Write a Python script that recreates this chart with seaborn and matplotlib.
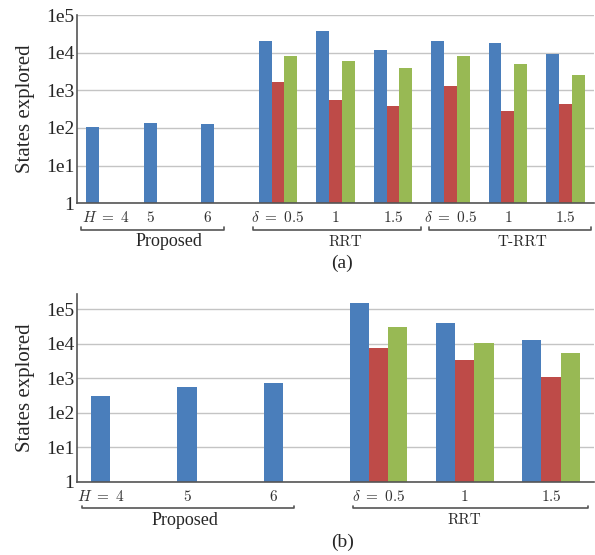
import numpy as np
import pandas as pd
import matplotlib.pyplot as plt
import matplotlib.transforms as mtransforms
import seaborn as sns

nan = np.nan

series = ["s1", "s2", "s3"]
palette = ["#4a7ebb", "#be4b48", "#98b954"]

# panel (a)
cats_a = ["H4", "H5", "H6", "RRT0.5", "RRT1", "RRT1.5", "TRRT0.5", "TRRT1", "TRRT1.5"]
labels_a = [r"$H\ =\ 4$", r"$5$", r"$6$", r"$\delta\ =\ 0.5$", r"$1$", r"$1.5$",
            r"$\delta\ =\ 0.5$", r"$1$", r"$1.5$"]
s1_a = [105, 133, 127, 20000, 38000, 11700, 21000, 18300, 9100]
s2_a = [nan, nan, nan, 1650, 550, 390, 1300, 290, 440]
s3_a = [nan, nan, nan, 8400, 6000, 3800, 8400, 5000, 2580]
groups_a = [("Proposed", -0.43, 2.06, 1.1), ("RRT", 2.57, 5.48, 4.17), ("T-RRT", 5.62, 8.44, 7.25)]

# panel (b)
cats_b = ["H4", "H5", "H6", "RRT0.5", "RRT1", "RRT1.5"]
labels_b = [r"$H\ =\ 4$", r"$5$", r"$6$", r"$\delta\ =\ 0.5$", r"$1$", r"$1.5$"]
s1_b = [316, 565, 725, 151000, 40000, 13100]
s2_b = [nan, nan, nan, 7600, 3450, 1080]
s3_b = [nan, nan, nan, 30500, 10200, 5350]
groups_b = [("Proposed", -0.44, 2.02, 0.75), ("RRT", 2.70, 5.43, 4.0)]

sns.set_style("white")
plt.rcParams["font.family"] = ["Liberation Serif", "DejaVu Serif"]
plt.rcParams["mathtext.fontset"] = "cm"

WIDTH = 0.67


def draw_panel(ax, cats, labels, s1, s2, s3, groups, ytop, tag, first_shift):
    df = pd.DataFrame({
        "cat": np.repeat(cats, 3),
        "series": series * len(cats),
        "value": np.ravel(np.column_stack([s1, s2, s3])),
    }).dropna()
    sns.barplot(data=df, x="cat", y="value", hue="series", order=cats,
                hue_order=series, palette=palette, width=WIDTH, saturation=1,
                linewidth=0, legend=False, ax=ax)
    ax.set_yscale("log")
    ax.set_ylim(1, ytop)
    ax.set_xlim(-0.5, len(cats) - 0.5)
    ax.set_yticks([1, 1e1, 1e2, 1e3, 1e4, 1e5])
    ax.set_yticklabels(["1", "1e1", "1e2", "1e3", "1e4", "1e5"], fontsize=14)
    ax.minorticks_off()
    ax.yaxis.grid(True, color="#c4c4c4", lw=1)
    ax.set_axisbelow(True)
    # proposed labels sit under the blue bar
    pos = [i - WIDTH / 3 if c.startswith("H") else i for i, c in enumerate(cats)]
    pos[0] = first_shift
    ax.set_xticks(pos)
    ax.set_xticklabels(labels, fontsize=11, color="#333333")
    ax.tick_params(axis="x", length=0, pad=5)
    ax.tick_params(axis="y", length=0, pad=2)
    ax.set_xlabel("")
    ax.set_ylabel("States explored", fontsize=15, labelpad=8)
    for s in ["top", "right"]:
        ax.spines[s].set_visible(False)
    for s in ["left", "bottom"]:
        ax.spines[s].set_color("#555555")
        ax.spines[s].set_linewidth(1.2)
    trans = mtransforms.blended_transform_factory(ax.transData, ax.transAxes)
    for name, x0, x1, xl in groups:
        ax.plot([x0, x0, x1, x1], [-0.125, -0.14, -0.14, -0.125], color="#555555",
                lw=1.2, transform=trans, clip_on=False)
        if name == "Proposed":
            ax.text(xl, -0.205, name, transform=trans, ha="center", va="center", fontsize=13)
        else:
            ax.text(xl, -0.205, name, transform=trans, ha="center", va="center",
                    fontsize=11, family="cmr10")
    ax.text(0.575 * 595 / 517 - 77 / 517, -0.32, tag, transform=ax.transAxes,
            ha="center", va="center", fontsize=14)


fig = plt.figure(figsize=(5.95, 5.55), dpi=100)
ax_a = fig.add_axes([77 / 595, 1 - 203.3 / 555, 517 / 595, 188.3 / 555])
ax_b = fig.add_axes([77 / 595, 1 - 482 / 555, 517 / 595, 188 / 555])

draw_panel(ax_a, cats_a, labels_a, s1_a, s2_a, s3_a, groups_a, 1e5, "(a)", 0.0)
draw_panel(ax_b, cats_b, labels_b, s1_b, s2_b, s3_b, groups_b, 2.76e5, "(b)", -WIDTH / 3)

fig.savefig("out.png", dpi=100)
